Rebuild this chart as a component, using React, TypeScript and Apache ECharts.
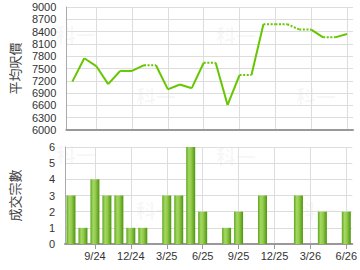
import React, { useEffect, useRef } from "react";
import * as echarts from "echarts";

const months = [
  "7/24", "8/24", "9/24", "10/24", "11/24", "12/24",
  "1/25", "2/25", "3/25", "4/25", "5/25", "6/25",
  "7/25", "8/25", "9/25", "10/25", "11/25", "12/25",
  "1/26", "2/26", "3/26", "4/26", "5/26", "6/26",
];
const labelMonths = ["9/24", "12/24", "3/25", "6/25", "9/25", "12/25", "3/26", "6/26"];

// average price per sq ft (平均呎價)
const avgPrice = [
  7180, 7750, 7560, 7120, 7440, 7440,
  7580, 7580, 6990, 7110, 7020, 7640,
  7640, 6610, 7340, 7340, 8580, 8580,
  8580, 8450, 8450, 8260, 8260, 8340,
];
// 1 = price carried / estimated for that month (line into it is dotted)
const estimated = [
  0, 0, 0, 0, 0, 0,
  0, 1, 0, 0, 0, 0,
  1, 0, 0, 1, 0, 1,
  1, 1, 1, 0, 1, 0,
];
// number of transactions (成交宗數)
const deals = [
  3, 1, 4, 3, 3, 1,
  1, 0, 3, 3, 6, 2,
  0, 1, 2, 0, 3, 0,
  0, 3, 0, 2, 0, 2,
];

const priceMin = 6000;
const priceMax = 9000;
const priceStep = 300;
const dealMin = 0;
const dealMax = 6;
const dealStep = 1;

const watermarks = [
  [76, 34], [156, 96], [236, 35], [316, 96],
  [76, 154], [156, 210], [236, 156], [316, 210],
];

export default function App() {
  const ref = useRef<HTMLDivElement>(null);
  useEffect(() => {
    if (!ref.current) return;
    const chart = echarts.init(ref.current, null, { renderer: "svg" });
    const showIdx = (idx: number) => labelMonths.indexOf(months[idx]) >= 0;
    const lineColor = "#66c600";
    const gridColor = "#dddddd";
    const textFont = "Liberation Sans, Arial, sans-serif";
    const cjkFont = "Noto Sans CJK TC, sans-serif";

    const segSeries: any[] = [];
    for (let i = 1; i < months.length; i++) {
      segSeries.push({
        type: "line",
        xAxisIndex: 0,
        yAxisIndex: 0,
        data: months.map((_, j) => (j === i - 1 || j === i ? avgPrice[j] : null)),
        symbol: "none",
        connectNulls: false,
        silent: true,
        z: 3,
        lineStyle: {
          color: lineColor,
          width: 2,
          type: estimated[i] ? [2, 1.6] : "solid",
          cap: "butt",
        },
      });
    }

    const barGradient = new echarts.graphic.LinearGradient(0, 0, 1, 0, [
      { offset: 0, color: "#5ea61c" },
      { offset: 0.3, color: "#a4d863" },
      { offset: 0.55, color: "#94cc4c" },
      { offset: 1, color: "#4e9410" },
    ]);

    const xAxisBase = (gridIndex: number, showLabels: boolean) => ({
      type: "category",
      gridIndex,
      data: months,
      boundaryGap: true,
      axisLine: { show: true, lineStyle: { color: "#999", width: 2 } },
      axisTick: {
        show: showLabels,
        alignWithLabel: true,
        interval: (idx: number) => showIdx(idx),
        length: 5,
        lineStyle: { color: "#999" },
      },
      axisLabel: {
        show: showLabels,
        interval: (idx: number) => showIdx(idx),
        color: "#333",
        fontSize: 11,
        fontFamily: textFont,
        margin: 6,
      },
      splitLine: {
        show: true,
        alignWithLabel: true,
        interval: (idx: number) => showIdx(idx),
        lineStyle: { color: gridColor, width: 1 },
      },
    });

    const yAxisBase = (gridIndex: number, min: number, max: number, step: number, name: string) => ({
      type: "value",
      gridIndex,
      min,
      max,
      interval: step,
      name,
      nameLocation: "middle",
      nameRotate: 90,
      nameGap: 44,
      nameTextStyle: { color: "#444", fontSize: 13, fontFamily: cjkFont },
      axisLine: { show: true, lineStyle: { color: "#aaa", width: 1 } },
      axisTick: { show: false },
      axisLabel: {
        color: "#333",
        fontSize: 11,
        fontFamily: textFont,
        margin: 10,
        formatter: (v: number) => String(v),
      },
      splitLine: { show: true, lineStyle: { color: gridColor, width: 1 } },
    });

    chart.setOption({
      animation: false,
      backgroundColor: "#fff",
      graphic: watermarks.map(([x, y]) => ({
        type: "text",
        x,
        y,
        z: -1,
        silent: true,
        style: {
          text: "科一",
          fill: "rgba(0,0,0,0.035)",
          font: "bold 20px Noto Sans CJK TC, sans-serif",
          textAlign: "center",
          textVerticalAlign: "middle",
        },
      })),
      grid: [
        { left: 65, top: 7, width: 288, height: 123 },
        { left: 65, top: 147, width: 288, height: 97 },
      ],
      xAxis: [xAxisBase(0, false), xAxisBase(1, true)],
      yAxis: [
        yAxisBase(0, priceMin, priceMax, priceStep, "平均呎價"),
        yAxisBase(1, dealMin, dealMax, dealStep, "成交宗數"),
      ],
      series: [
        ...segSeries,
        {
          type: "bar",
          xAxisIndex: 1,
          yAxisIndex: 1,
          data: deals.map((d) => (d > 0 ? d : null)),
          barWidth: 9,
          silent: true,
          itemStyle: { color: barGradient },
        },
      ],
    });
    return () => chart.dispose();
  }, []);
  return (
    <div
      ref={ref}
      style={{ position: "fixed", left: 0, top: 0, width: 360, height: 270, background: "#fff" }}
    />
  );
}
